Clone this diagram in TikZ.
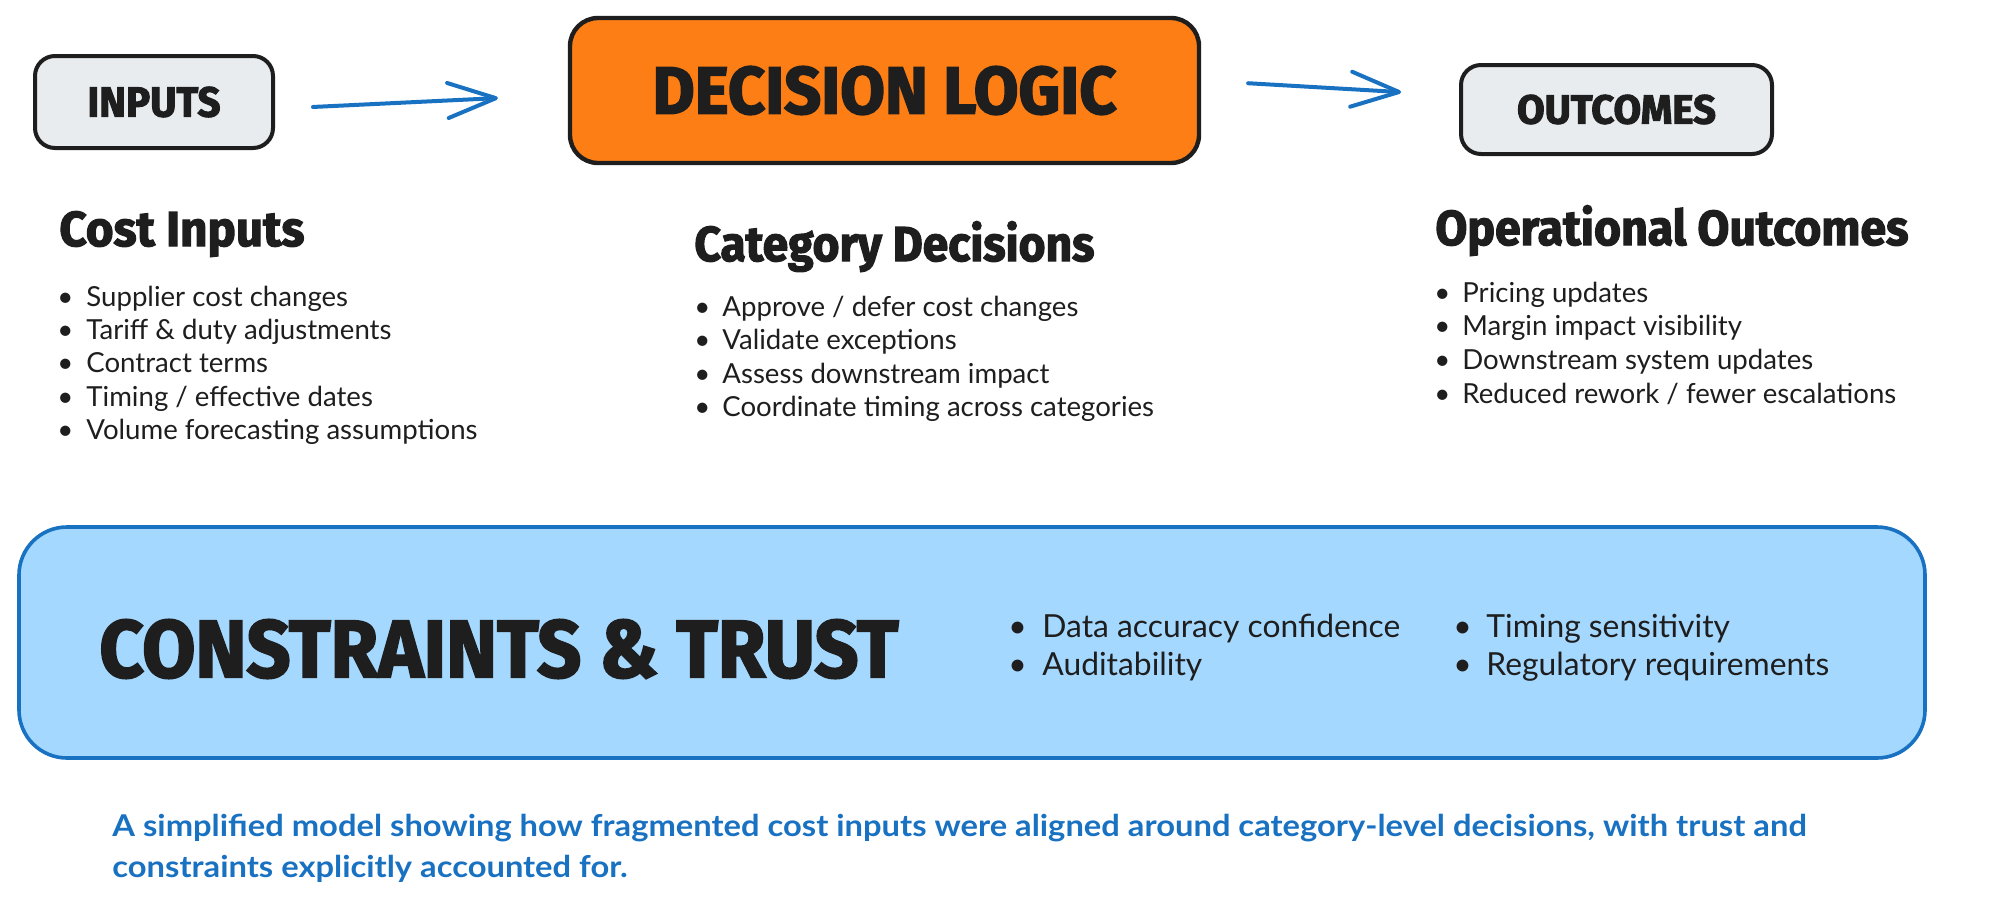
\documentclass[tikz,border=0pt]{standalone}
\usepackage{fontspec}
\usepackage{graphicx}
\usetikzlibrary{arrows.meta}
\setmainfont{Lato}
\newfontfamily\hfont{Fira Sans}[BoldFeatures={FakeBold=2.5}]
\newfontfamily\bodyfont{Lato}
\newfontfamily\capfont{Lato}[FakeStretch=1.09]
\definecolor{ink}{HTML}{1E1E1E}
\definecolor{grayfill}{HTML}{E9ECEF}
\definecolor{orangefill}{HTML}{FD7E14}
\definecolor{bluefill}{HTML}{A5D8FF}
\definecolor{flowblue}{HTML}{1971C2}
\newcommand\fitw[2]{\resizebox{#1}{\height}{#2}}
\newcommand\bul[1]{\makebox[#1][l]{\textbullet}}
\tikzset{
  lblfont/.style={font=\hfont\bfseries\fontsize{#1}{#1}\selectfont},
  graybox/.style={draw=ink, fill=grayfill, line width=2pt, rounded corners=10pt, inner sep=0pt, text=ink},
  orangebox/.style={draw=ink, fill=orangefill, line width=2.2pt, rounded corners=14pt, inner sep=0pt, text=ink},
  bluebox/.style={draw=flowblue, fill=bluefill, line width=1.8pt, rounded corners=24pt, inner sep=0pt},
  hd/.style={anchor=base west, inner sep=0pt, text=ink, font=\hfont\bfseries\fontsize{24.5pt}{28pt}\selectfont},
  item/.style={anchor=base west, inner sep=0pt, text=ink, font=\bodyfont\fontsize{13.8pt}{16pt}\selectfont},
  citem/.style={anchor=base west, inner sep=0pt, text=ink, font=\bodyfont\fontsize{15.9pt}{18pt}\selectfont},
  captext/.style={anchor=base west, inner sep=0pt, text=flowblue, font=\capfont\bfseries\fontsize{15pt}{18pt}\selectfont},
  flow/.style={draw=flowblue, line width=2pt, line cap=round, -{Straight Barb[length=24pt,width=17.5pt,round]}}
}
\begin{document}
\begin{tikzpicture}[x=0.5pt,y=-0.5pt]
\useasboundingbox (0,0) rectangle (1990,905);

% top flow boxes
\node[graybox, minimum width=119pt, minimum height=46pt, lblfont=21pt] (in) at (154,102) {\fitw{66.5pt}{INPUTS}};
\node[orangebox, minimum width=314.5pt, minimum height=72.5pt, lblfont=33.4pt] (dl) at (884.5,90.5) {\fitw{232pt}{DECISION LOGIC}};
\node[graybox, minimum width=155.5pt, minimum height=44.5pt, lblfont=20.3pt] (out) at (1616.5,109.5) {\fitw{99.5pt}{OUTCOMES}};

% arrows
\draw[flow, shorten <=19pt, shorten >=35pt] ([yshift=-3.4pt]in.east) -- ([yshift=-2.1pt]dl.west);
\draw[flow, shorten <=23.5pt, shorten >=29pt] ([yshift=5pt]dl.east) -- ([yshift=7pt]out.west);

% column headings
\node[hd] (hcost) at (59,246) {\fitw{122.5pt}{Cost Inputs}};
\node[hd] (hcat) at (694,261) {\fitw{200pt}{Category Decisions}};
\node[hd] (hops) at (1435,245) {\fitw{236.5pt}{Operational Outcomes}};

% cost inputs list
\node[item] (c1) at (57,306) {\bul{14.5pt}Supplier cost changes};
\node[item] (c2) at (57,339) {\bul{14.5pt}Tariff \& duty adjustments};
\node[item] (c3) at (57,372) {\bul{14.5pt}Contract terms};
\node[item] (c4) at (57,406) {\bul{14.5pt}Timing / effective dates};
\node[item] (c5) at (57,439) {\bul{14.5pt}Volume forecasting assumptions};

% category decisions list
\node[item] (d1) at (694,316) {\bul{14pt}Approve / defer cost changes};
\node[item] (d2) at (694,349) {\bul{14pt}Validate exceptions};
\node[item] (d3) at (694,383) {\bul{14pt}Assess downstream impact};
\node[item] (d4) at (694,416) {\bul{14pt}Coordinate timing across categories};

% outcomes list
\node[item] (o1) at (1434,302) {\bul{14pt}Pricing updates};
\node[item] (o2) at (1434,335) {\bul{14pt}Margin impact visibility};
\node[item] (o3) at (1434,369) {\bul{14pt}Downstream system updates};
\node[item] (o4) at (1434,403) {\bul{14pt}Reduced rework / fewer escalations};

% constraints band
\node[bluebox, minimum width=953pt, minimum height=115.5pt] (ct) at (972,642.5) {};
\node[anchor=west, inner sep=0pt, text=ink, lblfont=40.6pt] (cttitle) at (99,649) {\fitw{399.5pt}{CONSTRAINTS \& TRUST}};
\node[citem] (k1) at (1008,637) {\bul{17pt}Data accuracy confidence};
\node[citem] (k2) at (1008,675) {\bul{17pt}Auditability};
\node[citem] (k3) at (1453,637) {\bul{16.5pt}Timing sensitivity};
\node[citem] (k4) at (1453,675) {\bul{16.5pt}Regulatory requirements};

% caption
\node[captext] (cap1) at (112,836) {A simplified model showing how fragmented cost inputs were aligned around category-level decisions, with trust and};
\node[captext] (cap2) at (112,877) {constraints explicitly accounted for.};
\end{tikzpicture}
\end{document}
